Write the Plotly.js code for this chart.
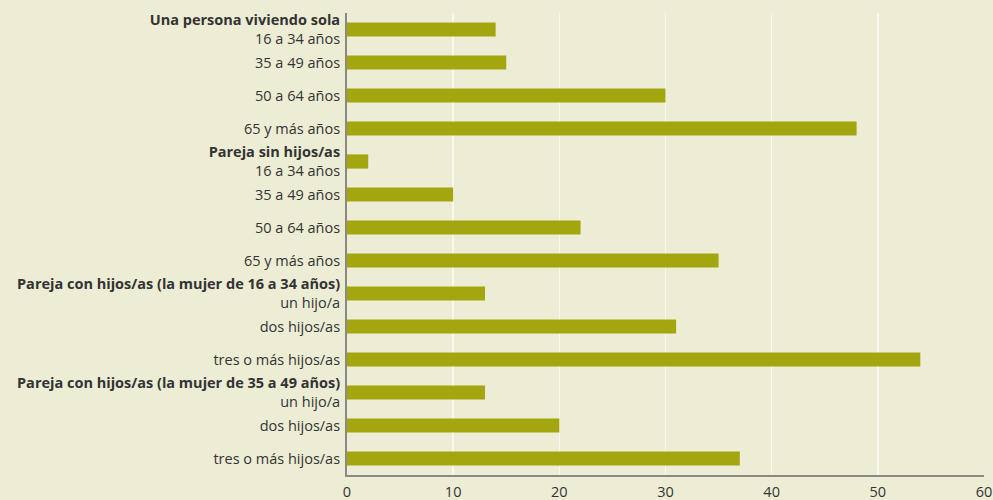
<!DOCTYPE html>
<html>
<head>
<meta charset="utf-8">
<script src="https://cdn.plot.ly/plotly-3.0.1.min.js"></script>
<style>html,body{margin:0;padding:0;background:#EDEDD5;}</style>
</head>
<body>
<div id="chart" style="width:993px;height:500px;"></div>
<script>
var groups = ["Una persona viviendo sola", "", "", "",
              "Pareja sin hijos/as", "", "", "",
              "Pareja con hijos/as (la mujer de 16 a 34 años)", "", "",
              "Pareja con hijos/as (la mujer de 35 a 49 años)", "", ""];
var subLabels = ["16 a 34 años", "35 a 49 años", "50 a 64 años", "65 y más años",
                 "16 a 34 años", "35 a 49 años", "50 a 64 años", "65 y más años",
                 "un hijo/a", "dos hijos/as", "tres o más hijos/as",
                 "un hijo/a", "dos hijos/as", "tres o más hijos/as"];
var values = [14, 15, 30, 48, 2, 10, 22, 35, 13, 31, 54, 13, 20, 37];
var xTicks = [0, 10, 20, 30, 40, 50, 60];

var cats = subLabels.map(function(s, i){ return "c" + i; });
var tickText = subLabels.map(function(s, i){
  return groups[i] ? "<b>" + groups[i] + "</b><br>" + s : s;
});

var trace = {
  type: "bar",
  orientation: "h",
  x: values,
  y: cats,
  marker: {color: "#A3A60F"},
  hoverinfo: "x"
};

var layout = {
  width: 993, height: 500,
  margin: {l: 347, r: 9, t: 13, b: 25},
  paper_bgcolor: "#EDEDD5",
  plot_bgcolor: "#EDEDD5",
  bargap: 0.57,
  showlegend: false,
  font: {family: "Open Sans, sans-serif", size: 14.5, color: "#333333"},
  xaxis: {
    range: [0, 60],
    tickvals: xTicks,
    ticktext: xTicks.map(String),
    showgrid: true, gridcolor: "#F8F8F0", gridwidth: 1.5,
    zeroline: false,
    showline: true, linecolor: "#8A8A80", linewidth: 2,
    ticks: "",
    ticklabelstandoff: 3,
    tickfont: {size: 14.5, color: "#333333"},
    fixedrange: true
  },
  yaxis: {
    type: "category",
    categoryorder: "array",
    categoryarray: cats,
    tickvals: cats,
    ticktext: tickText,
    autorange: "reversed",
    showgrid: false,
    zeroline: false,
    showline: true, linecolor: "#8A8A80", linewidth: 2,
    ticks: "",
    ticklabelstandoff: 2,
    tickfont: {size: 14.5, color: "#333333"},
    fixedrange: true
  }
};

Plotly.newPlot("chart", [trace], layout, {displayModeBar: false, staticPlot: true});
</script>
</body>
</html>
